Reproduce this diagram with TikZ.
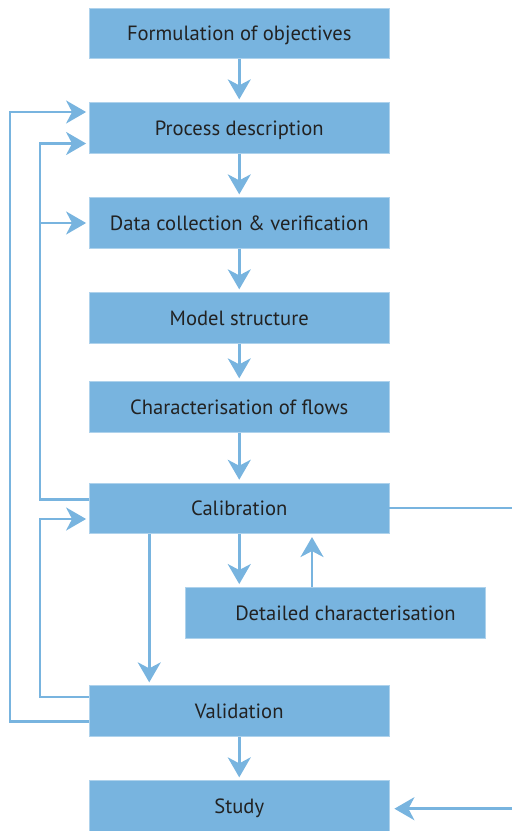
\documentclass[tikz,border=0pt]{standalone}
\usepackage{fontspec}
\setmainfont{PT Sans}
\usetikzlibrary{arrows.meta,calc}
\definecolor{boxblue}{HTML}{78B4DF}
\definecolor{txt}{HTML}{222222}
\tikzset{
  lbl/.style={text=txt, font=\fontsize{20.6pt}{22pt}\selectfont, text depth=0pt},
  box/.style={lbl, rectangle, fill=boxblue, draw=boxblue!60!white, line width=0.8pt, minimum width=299.5pt, minimum height=50.5pt, inner sep=0pt},
  conn/.style={draw=boxblue, line width=2.7pt},
  arr/.style={conn, -{Stealth[length=20pt,width=23pt,inset=6pt]}, shorten >=3pt},
}
\begin{document}
\begin{tikzpicture}[x=1pt,y=-1pt]
\useasboundingbox (0,0) rectangle (512,831);
\node[box] (fo) at (239.25,33.5) {Formulation of objectives};
\node[box] (pd) at (239.25,128) {Process description};
\node[box] (dc) at (239.25,223) {Data collection \& verification};
\node[box] (ms) at (239.25,318) {Model structure};
\node[box] (cf) at (239.25,407) {Characterisation of flows};
\node[box] (cal) at (239.25,508.4) {Calibration};
\node[box, minimum width=300pt] (det) at (335,612.7) {};
\node[lbl] (dett) at (345.5,612.7) {Detailed characterisation};
\node[box] (val) at (239.25,711) {Validation};
\node[box] (st) at (239.25,806) {Study};
\coordinate (re1) at (512,508);
\coordinate (re2) at (512,808.7);
% main chain
\draw[arr] (fo) -- (pd);
\draw[arr] (pd) -- (dc);
\draw[arr] (dc) -- (ms);
\draw[arr] (ms) -- (cf);
\draw[arr] (cf) -- (cal);
\draw[arr] (val) -- (st);
% calibration branches
\draw[arr] (cal.south) -- (cal.south |- det.north);
\draw[arr] ([xshift=-23pt]det.north) -- ([xshift=-23pt]det.north |- cal.south);
\draw[arr] ([xshift=-90pt]cal.south) -- ([xshift=-90pt]val.north);
% left loops
\draw[arr] ([yshift=-10.7pt]val.west) -| (10,112) -- ([yshift=16pt]pd.west);
\draw[arr] ([yshift=8.7pt]cal.west) -| (40,143.5) -- ([yshift=-15.5pt]pd.west);
\draw[arr] (40,223) -- (dc.west);
\draw[arr] ([yshift=14pt]val.west) -| (40,519) -- ([yshift=-10.6pt]cal.west);
% right side
\draw[conn] ([yshift=0.4pt]cal.east) -- (re1);
\draw[arr, shorten >=5pt] (re2) -- ([yshift=-2.7pt]st.east);
\end{tikzpicture}
\end{document}
